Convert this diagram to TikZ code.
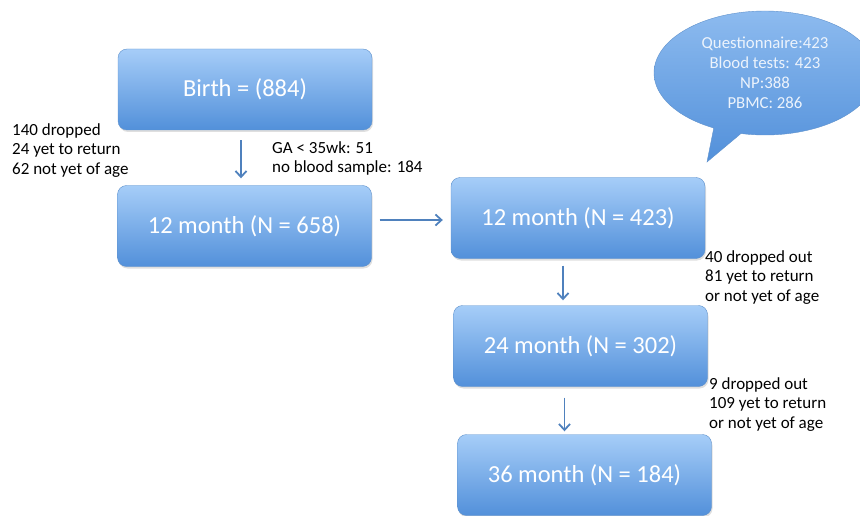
\documentclass[tikz,border=0pt]{standalone}
\usepackage{fontspec}
\setmainfont{Carlito}
\usepackage{tikz}
\usetikzlibrary{shapes,shapes.callouts,arrows.meta,shadows,positioning}

\definecolor{boxtop}{RGB}{166,205,248}
\definecolor{boxbottom}{RGB}{82,144,218}
\definecolor{boxedge}{RGB}{96,146,204}
\definecolor{linecol}{RGB}{79,129,189}
\definecolor{bubbletext}{RGB}{236,243,252}

\begin{document}
\begin{tikzpicture}[x=1pt,y=-1pt]
    \tikzset{
        stage/.style = {rectangle, draw=boxedge, top color=boxtop, bottom color=boxbottom, thin, rounded corners=9pt,
                        minimum width=254pt, minimum height=81pt, inner sep=0pt, text=white,
                        font=\fontsize{24.5}{28}\selectfont,
                        drop shadow={opacity=0.25, shadow xshift=1pt, shadow yshift=-2pt}},
        line/.style = {draw=linecol, line width=1.8pt, -{Straight Barb[length=6pt,width=11pt]}},
        note/.style = {anchor=north west, align=left, inner sep=0pt, font=\fontsize{17}{19.5}\selectfont},
        bubble/.style = {ellipse callout, draw=boxedge, top color=boxtop!70!boxbottom, bottom color=boxbottom, thin,
                         minimum width=222pt, minimum height=124pt, inner sep=0pt, align=center, text=bubbletext,
                         font=\fontsize{16.8}{20}\selectfont},
    }
    \useasboundingbox (0,0) rectangle (860,516);

    \node[stage](birth) at (245,89.5){Birth = (884)};
    
    \node[stage](m12a) at (244.5,226){12 month (N = 658)};
    
    \node[stage](m12b) at (578,218){12 month (N = 423)};
    
    \node[stage](m24) at (580.5,346){24 month (N = 302)};
    
    \node[stage](m36) at (584.5,475){36 month (N = 184)};
    
    \coordinate (tip) at (707,162);
    \node[bubble, callout absolute pointer={(tip)}](tests) at (765,73)
        {Questionnaire:423\\Blood tests: 423\\NP:388\\PBMC: 286};
    
    \node[note](drop1) at (12,123){140 dropped\\24 yet to return\\62 not yet of age};
    
    \node[note](excl) at (272,141){GA < 35wk: 51\\no blood sample: 184};
    
    \node[note](drop2) at (705,250){40 dropped out\\81 yet to return\\or not yet of age};
    
    \node[note](drop3) at (709,377){9 dropped out\\109 yet to return\\or not yet of age};
    
    \path [line, shorten <=10pt, shorten >=7pt] ([xshift=-4pt]birth.south) -- ([xshift=-4pt]birth.south |- m12a.north);
    \path [line, shorten <=8pt, shorten >=8pt] ([yshift=6pt]m12a.east) -- ([yshift=-2pt]m12b.west);
    \path [line, shorten <=7pt, shorten >=5pt] ([xshift=-15pt]m12b.south) -- ([xshift=-15pt]m12b.south |- m24.north);
    \path [line, shorten <=11pt, shorten >=3pt] ([xshift=-16pt]m24.south) -- ([xshift=-16pt]m24.south |- m36.north);

\end{tikzpicture}
\end{document}
